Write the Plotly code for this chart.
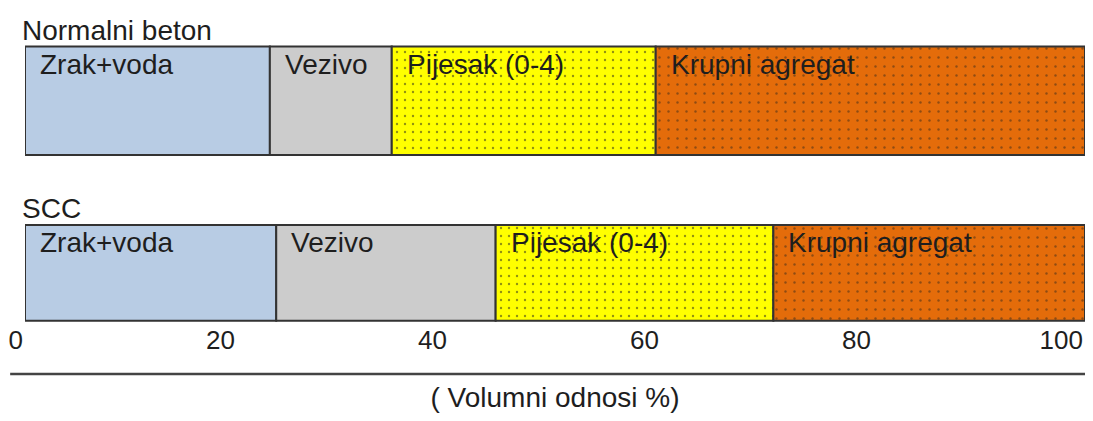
import plotly.graph_objects as go

# ---- data (volume fractions, %) ----
mixes = ["Normalni beton", "SCC"]
components = ["Zrak+voda", "Vezivo", "Pijesak (0-4)", "Krupni agregat"]
normal_values = [23.1, 11.5, 24.9, 40.5]
scc_values = [23.7, 20.7, 26.2, 29.4]
x_ticks = [0, 20, 40, 60, 80, 100]
x_title = "( Volumni odnosi %)"

# ---- styles ----
colors = ["#B8CCE4", "#CCCCCC", "#FFFF00", "#E46C0A"]
patterns = [None, None, dict(shape=".", fillmode="overlay", fgcolor="#222222", size=8, solidity=0.07),
            dict(shape=".", fillmode="overlay", fgcolor="#3a2a1a", size=9, solidity=0.06)]
bar_widths = [0.63, 0.556]
FONT = "Liberation Sans, Arial, sans-serif"
TXT = "#1e1e1e"

series = [normal_values, scc_values]

fig = go.Figure()
for j, comp in enumerate(components):
    vals = [s[j] for s in series]
    bases = [sum(s[:j]) for s in series]
    marker = dict(color=colors[j], line=dict(color="#333333", width=2))
    if patterns[j]:
        marker["pattern"] = patterns[j]
    fig.add_trace(go.Bar(
        y=[0, 1], x=vals, base=bases, orientation="h", width=bar_widths,
        marker=marker, name=comp, showlegend=False, hoverinfo="skip",
    ))

annotations = []
for i, (mix, s) in enumerate(zip(mixes, series)):
    top = i - bar_widths[i] / 2
    annotations.append(dict(x=0, y=top, xref="x", yref="y", text=mix, showarrow=False,
                            xanchor="left", yanchor="bottom", xshift=-5, yshift=-1,
                            font=dict(family=FONT, size=28, color=TXT)))
    for j, comp in enumerate(components):
        start = sum(s[:j])
        annotations.append(dict(x=start, y=top, xref="x", yref="y", text=comp, showarrow=False,
                                xanchor="left", yanchor="top", xshift=13, yshift=0,
                                font=dict(family=FONT, size=28, color=TXT)))

fig.update_layout(
    width=1077, height=405,
    margin=dict(l=17, r=0, t=0, b=91, autoexpand=False),
    paper_bgcolor="white", plot_bgcolor="white",
    barmode="overlay",
    annotations=annotations,
    xaxis=dict(range=[0, 100], tickvals=x_ticks, ticktext=[str(v) for v in x_ticks],
               showgrid=False, zeroline=False, showline=False, ticks="",
               automargin=False,
               ticklabelposition="outside left", ticklabelshift=-2, ticklabeloverflow="allow",
               tickfont=dict(family=FONT, size=26, color=TXT),
               title=dict(text=x_title, standoff=60, font=dict(family=FONT, size=28, color=TXT))),
    yaxis=dict(range=[1.285, -0.539], showgrid=False, zeroline=False, showline=False,
               showticklabels=False, ticks="", automargin=False),
    shapes=[dict(type="line", xref="paper", yref="paper", x0=-0.014, x1=1.0,
                 y0=-0.1656, y1=-0.1656, line=dict(color="#444444", width=2.5))],
)

fig.write_html("out.html")
